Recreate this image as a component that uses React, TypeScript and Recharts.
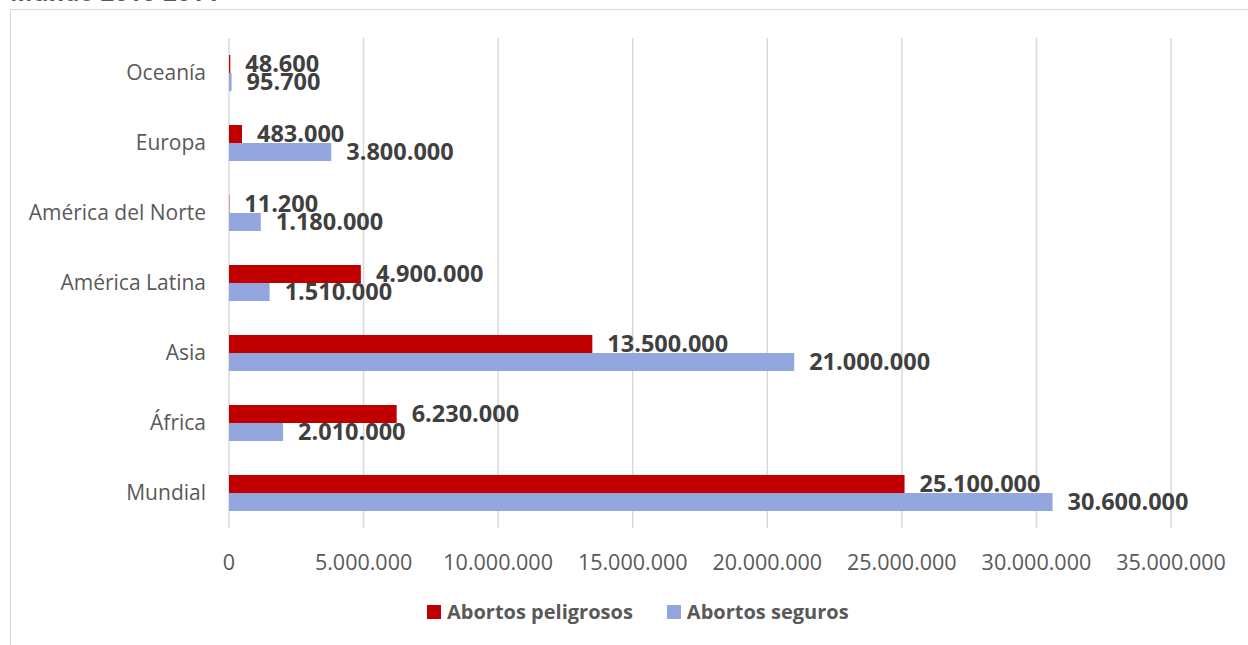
import { BarChart, Bar, XAxis, YAxis, CartesianGrid, LabelList } from 'recharts';

const regions = ['Oceanía', 'Europa', 'América del Norte', 'América Latina', 'Asia', 'África', 'Mundial'];
const peligrosos = [48600, 483000, 11200, 4900000, 13500000, 6230000, 25100000];
const seguros = [95700, 3800000, 1180000, 1510000, 21000000, 2010000, 30600000];
const xTicks = [0, 5000000, 10000000, 15000000, 20000000, 25000000, 30000000, 35000000];

const RED = '#C00000';
const BLUE = '#94A6DE';
const FONT = '"Open Sans", sans-serif';

const data = regions.map((region, i) => ({
    region,
    peligrosos: peligrosos[i],
    seguros: seguros[i],
}));

const fmt = (n: number) => String(n).replace(/\B(?=(\d{3})+(?!\d))/g, '.');

const legendItems = [
    { name: 'Abortos peligrosos', color: RED },
    { name: 'Abortos seguros', color: BLUE },
];

function ChartLegend() {
    return (
        <div style={{ position: 'absolute', left: 427, top: 598, display: 'flex', gap: 34, fontFamily: FONT }}>
            {legendItems.map(it => (
                <div key={it.name} style={{ display: 'flex', alignItems: 'center' }}>
                    <span style={{ width: 14, height: 14, background: it.color, marginRight: 6, display: 'inline-block' }} />
                    <span style={{ fontSize: 20, fontWeight: 700, color: '#595959' }}>{it.name}</span>
                </div>
            ))}
        </div>
    );
}

const labelStyle = { fill: '#404040', fontSize: 23.5, fontWeight: 700, fontFamily: FONT };

function App() {
    return (
        <div style={{ position: 'absolute', left: 0, top: 0, width: 1248, height: 645, overflow: 'hidden', background: '#fff' }}>
            <div style={{ position: 'absolute', left: 10, top: -25, fontFamily: FONT, fontSize: 24, fontWeight: 700, color: '#595959', whiteSpace: 'nowrap' }}>
                Mundo 2010-2014
            </div>
            <div style={{ position: 'absolute', left: 10, top: 9, width: 1250, height: 650, border: '1px solid #d9d9d9', background: '#fff' }} />
            <div style={{ position: 'absolute', left: 0, top: 0 }}>
                <BarChart
                    width={1248}
                    height={645}
                    data={data}
                    layout="vertical"
                    barGap={0}
                    barSize={18}
                    margin={{ top: 38, right: 77, left: 0, bottom: 77 }}
                >
                    <CartesianGrid horizontal={false} stroke="#d9d9d9" strokeWidth={1.5} />
                    <XAxis
                        type="number"
                        domain={[0, 35000000]}
                        ticks={xTicks}
                        tickFormatter={fmt}
                        axisLine={false}
                        tickLine={false}
                        tickMargin={21}
                        height={40}
                        interval={0}
                        tick={{ fill: '#595959', fontSize: 21.5, fontFamily: FONT }}
                    />
                    <YAxis
                        type="category"
                        dataKey="region"
                        width={229}
                        axisLine={false}
                        tickLine={false}
                        tickMargin={17}
                        interval={0}
                        tick={{ fill: '#595959', fontSize: 21, fontFamily: FONT }}
                    />
                    <Bar dataKey="peligrosos" name="Abortos peligrosos" fill={RED} isAnimationActive={false}>
                        <LabelList dataKey="peligrosos" position="right" offset={15} formatter={(v: number) => fmt(v)} style={labelStyle} />
                    </Bar>
                    <Bar dataKey="seguros" name="Abortos seguros" fill={BLUE} isAnimationActive={false}>
                        <LabelList dataKey="seguros" position="right" offset={15} formatter={(v: number) => fmt(v)} style={labelStyle} />
                    </Bar>
                </BarChart>
            </div>
            <ChartLegend />
        </div>
    );
}

export default App;
